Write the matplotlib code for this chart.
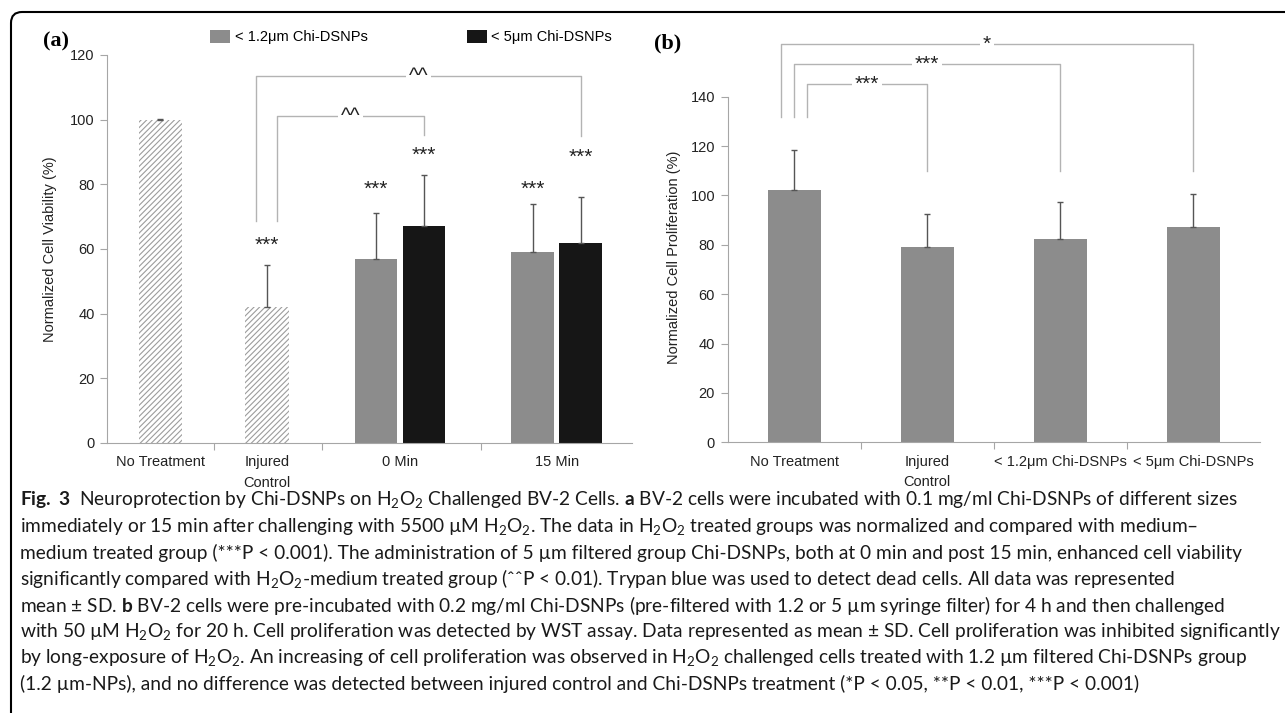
import numpy as np
import matplotlib
matplotlib.use('Agg')
import matplotlib.pyplot as plt
from matplotlib.patches import PathPatch
from matplotlib.path import Path

## data
# panel (a): normalized cell viability (%)
cats_a = ['No Treatment', 'Injured\nControl', '0 Min', '15 Min']
ctrl_vals = [100, 42]          # No Treatment, Injured Control
ctrl_err = [0.3, 13]
small_vals = [57, 59]          # < 1.2um Chi-DSNPs at 0 Min, 15 Min
small_err = [14, 15]
large_vals = [67, 62]          # < 5um Chi-DSNPs at 0 Min, 15 Min
large_err = [16, 14]
legend_a = ['< 1.2μm Chi-DSNPs', '< 5μm Chi-DSNPs']
stars_a = ['***', '***', '***', '***', '***']
stars_a_y = [61.2, 78.6, 88.9, 78.6, 88.5]

# panel (b): normalized cell proliferation (%)
cats_b = ['No Treatment', 'Injured\nControl', '< 1.2μm Chi-DSNPs', '< 5μm Chi-DSNPs']
prolif_vals = [102.2, 79.2, 82.3, 87.3]
prolif_err = [16.4, 13.1, 15.1, 13.1]

caption = [
    r'$\mathbf{Fig.\ 3}$  Neuroprotection by Chi-DSNPs on H$_2$O$_2$ Challenged BV-2 Cells. $\mathbf{a}$ BV-2 cells were incubated with 0.1 mg/ml Chi-DSNPs of different sizes',
    'immediately or 15 min after challenging with 5500 µM H$_2$O$_2$. The data in H$_2$O$_2$ treated groups was normalized and compared with medium–',
    'medium treated group (***P < 0.001). The administration of 5 µm filtered group Chi-DSNPs, both at 0 min and post 15 min, enhanced cell viability',
    'significantly compared with H$_2$O$_2$-medium treated group (ˆˆP < 0.01). Trypan blue was used to detect dead cells. All data was represented',
    r'mean ± SD. $\mathbf{b}$ BV-2 cells were pre-incubated with 0.2 mg/ml Chi-DSNPs (pre-filtered with 1.2 or 5 µm syringe filter) for 4 h and then challenged',
    'with 50 µM H$_2$O$_2$ for 20 h. Cell proliferation was detected by WST assay. Data represented as mean ± SD. Cell proliferation was inhibited significantly',
    'by long-exposure of H$_2$O$_2$. An increasing of cell proliferation was observed in H$_2$O$_2$ challenged cells treated with 1.2 µm filtered Chi-DSNPs group',
    '(1.2 µm-NPs), and no difference was detected between injured control and Chi-DSNPs treatment (*P < 0.05, **P < 0.01, ***P < 0.001)',
]

## styling
plt.rcParams['font.family'] = ['Liberation Sans', 'DejaVu Sans']
plt.rcParams['mathtext.fontset'] = 'custom'
plt.rcParams['mathtext.rm'] = 'Lato'
plt.rcParams['mathtext.bf'] = 'Lato:bold'
plt.rcParams['mathtext.it'] = 'Lato:italic'
plt.rcParams['hatch.linewidth'] = 0.8

W, H = 1285, 713
def fx(px):
    return px / W
def fy(py):
    return 1 - py / H

axis_col = '#a6a6a6'
brk_col = '#b3b3b3'
err_kw = dict(ecolor='#555555', elinewidth=1, capsize=2.5, capthick=1)

fig = plt.figure(figsize=(W / 100, H / 100), dpi=100)

def style_axis(ax):
    for s in ['top', 'right']:
        ax.spines[s].set_visible(False)
    for s in ['left', 'bottom']:
        ax.spines[s].set_color(axis_col)
    ax.tick_params(axis='y', direction='out', length=5, color=axis_col, labelsize=10.5, pad=4, labelcolor='#222222')
    ax.tick_params(axis='x', which='major', direction='out', length=5, color=axis_col, labelbottom=False)
    ax.tick_params(axis='x', which='minor', length=0, labelsize=10.5, pad=9, labelcolor='#222222')

def bracket(ax, x1, x2, ytop, yb1, yb2, label):
    ax.plot([x1, x1, x2, x2], [yb1, ytop, ytop, yb2], color=brk_col, lw=1, clip_on=False)
    ax.text((x1 + x2) / 2, ytop, label, ha='center', va='center', fontsize=15, color='#222222',
            bbox=dict(facecolor='white', edgecolor='none', pad=2), clip_on=False)

## panel (a)
ax_a = fig.add_axes([fx(107.3), fy(443), (632.4 - 107.3) / W, (443 - 55) / H])
pos_a = [0.497, 1.494, 2.735, 4.199]
off = 0.224
ax_a.bar(pos_a[:2], ctrl_vals, width=0.41, color='white', edgecolor='#9c9c9c', linewidth=0,
         hatch='//////', yerr=[[0, 0], ctrl_err], error_kw=err_kw)
b1 = ax_a.bar(np.array(pos_a[2:]) - off, small_vals, width=0.397, color='#8c8c8c',
              yerr=[[0, 0], small_err], error_kw=err_kw)
b2 = ax_a.bar(np.array(pos_a[2:]) + off, large_vals, width=0.397, color='#161616',
              yerr=[[0, 0], large_err], error_kw=err_kw)

star_x = [pos_a[1], pos_a[2] - off, pos_a[2] + off, pos_a[3] - off, pos_a[3] + off]
for x, y, s in zip(star_x, stars_a_y, stars_a):
    ax_a.text(x, y, s, ha='center', va='center', fontsize=15, color='#222222')

bracket(ax_a, 1.59, pos_a[2] + off, 101.1, 68.8, 95.3, '^^')
bracket(ax_a, 1.392, pos_a[3] + off, 113.5, 68.8, 95.0, '^^')

ax_a.set_xlim(0, 4.907)
ax_a.set_ylim(0, 120)
ax_a.set_yticks(np.arange(0, 121, 20))
ax_a.set_xticks([1, 2.009, 3.489])
ax_a.set_xticks(pos_a, minor=True)
ax_a.set_xticklabels(cats_a, minor=True, linespacing=1.6)
style_axis(ax_a)
ax_a.set_ylabel('Normalized Cell Viability (%)', fontsize=10.5, color='#222222')
ax_a.yaxis.set_label_coords(-0.095, 0.5)

ax_a.legend([b1, b2], legend_a, ncol=2, loc='center left', frameon=False, fontsize=10.5,
            bbox_to_anchor=(fx(210), fy(37)), bbox_transform=fig.transFigure,
            borderpad=0, borderaxespad=0, handlelength=1.37, handleheight=0.96,
            handletextpad=0.32, columnspacing=6.8)

fig.text(fx(43), fy(41), '(a)', family='Liberation Serif', weight='bold', fontsize=16, va='center', ha='left')

## panel (b)
ax_b = fig.add_axes([fx(727.6), fy(442.3), (1259.8 - 727.6) / W, (442.3 - 96.7) / H])
pos_b = np.arange(len(cats_b))
ax_b.bar(pos_b, prolif_vals, width=0.4, color='#8c8c8c',
         yerr=[[0] * len(pos_b), prolif_err], error_kw=err_kw)

bracket(ax_b, -0.1, 3, 161.2, 131.9, 110, '*')
bracket(ax_b, 0, 2, 153.2, 131.9, 110, '***')
bracket(ax_b, 0.1, 1, 145.1, 131.9, 110, '***')

ax_b.set_xlim(-0.5, 3.5)
ax_b.set_ylim(0, 140)
ax_b.set_yticks(np.arange(0, 141, 20))
ax_b.set_xticks([0.5, 1.5, 2.5])
ax_b.set_xticks(pos_b, minor=True)
ax_b.set_xticklabels(cats_b, minor=True, linespacing=1.6)
style_axis(ax_b)
ax_b.set_ylabel('Normalized Cell Proliferation (%)', fontsize=10.5, color='#222222')
ax_b.yaxis.set_label_coords(-0.088, 0.536)

fig.text(fx(654), fy(43), '(b)', family='Liberation Serif', weight='bold', fontsize=16, va='center', ha='left')

## caption
line_y = [500, 526.3, 552.6, 578.9, 605.2, 631.5, 657.8, 684.1]
for s, y in zip(caption, line_y):
    fig.text(fx(20), fy(y), s, ha='left', va='center', fontsize=13.8,
             family=['Lato', 'DejaVu Sans'], color='#1a1a1a')

## frame around the figure (top + left with rounded corner)
verts = [(fx(W), fy(12)), (fx(22), fy(12)), (fx(11), fy(12)), (fx(11), fy(23)), (fx(11), fy(H))]
codes = [Path.MOVETO, Path.LINETO, Path.CURVE3, Path.CURVE3, Path.LINETO]
fig.add_artist(PathPatch(Path(verts, codes), transform=fig.transFigure, fill=False, lw=1.5, edgecolor='black'))

fig.savefig('out.png', dpi=100)
